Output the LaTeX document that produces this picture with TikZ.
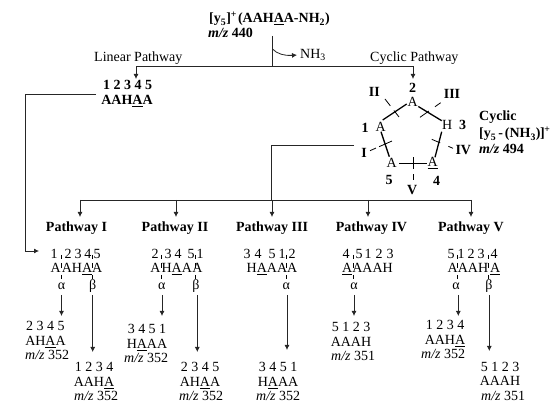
\documentclass[tikz,border=0pt]{standalone}
\usepackage{fontspec}
\setmainfont{Liberation Serif}
\usetikzlibrary{arrows.meta}
\newcommand{\ua}{\underline{A}}
\newcommand{\mz}[1]{\textit{m/z} #1}
\tikzset{
  x=1pt,y=-1pt,
  small/.style={inner sep=0pt,font=\fontsize{14}{14}\selectfont},
  bt/.style={inner sep=0pt,font=\fontsize{14}{14}\selectfont\bfseries},
  wire/.style={line width=0.8pt,black!85},
  arr/.style={wire,-{Latex[length=5pt,width=5pt]}},
  bond/.style={line width=1.3pt,black},
  cutbase/.style={line width=0.8pt,black},
  tick/.style={line width=0.8pt,black,dash pattern=on 4.3pt off 3.7pt on 5pt off 7pt on 4.3pt off 10pt},
}
\newcommand{\product}[7]{%
  \node[small,anchor=base] (#1n) at (#2,#3) {#5};
  \node[small,anchor=base] (#1s) at (#2,#3+14.5) {#6};
  \node[small,anchor=base west] (#1m) at (#4,#3+29) {\mz{#7}};
}
\begin{document}
\begin{tikzpicture}
\useasboundingbox (0,0) rectangle (550,406);
% header
\node[bt,anchor=base west] (title) at (209,23) {[y\textsubscript{5}]\textsuperscript{+}\kern-2.5pt{} (AAH\ua A-NH\textsubscript{2})};
\node[bt,anchor=base west] (mass) at (208,38) {\textit{m/z} 440};
\coordinate (top) at (272.5,36);
\coordinate (junction) at (272.5,66.5);
\coordinate (left) at (136,66.5);
\coordinate (right) at (413,66.5);
\coordinate (leftend) at (136,79);
\coordinate (rightend) at (413,79);
\draw[wire] (top) -- (junction);
\draw[wire] (left) -- (right);
\draw[arr] (left) -- (leftend);
\draw[arr] (right) -- (rightend);
\node[small,anchor=west] (nh) at (300,55) {NH\textsubscript{3}};
\coordinate (bend) at (272.5,49);
\draw[arr] (bend) .. controls (277,54) and (285,56) .. ([xshift=-3pt]nh.west);
\node[small,anchor=base west] (linear) at (94,62) {Linear Pathway};
\node[small,anchor=base west] (cyclic) at (370,62) {Cyclic Pathway};
% linear sequence
\node[bt,anchor=base] (lnum) at (127.5,90) {1 2 3 4 5};
\node[bt,anchor=base] (lseq) at (127,105) {AAH\ua A};
\coordinate (lstart) at (96,94);
\coordinate (lcorner) at (25,94);
\coordinate (lcorner2) at (25,251);
\coordinate (p1in) at (39,251);
\draw[arr] (lstart) -- (lcorner) -- (lcorner2) -- (p1in);
% ring
\node[small] (r2) at (412.7,101.7) {A};
\node[small] (r3) at (447.3,124.5) {H};
\node[small] (r1) at (380.7,126.7) {A};
\node[small] (r5) at (391.7,163.3) {A};
\node[small] (r4) at (432.7,163.3) {\ua};
\draw[bond] (382.7,120) -- (406.7,104);
\draw[bond] (418.3,106.5) -- (441.7,120.7);
\draw[bond] (381,131.7) -- (389.3,156.7);
\draw[bond] (441.7,131.7) -- (435,157.3);
\draw[bond] (399.3,163.5) -- (427.3,163.5);
\draw[cutbase,dash pattern=on 8.6pt off 6pt on 8.2pt off 9pt] (385,99) -- (399,117);
\draw[cutbase,dash pattern=on 7pt off 7.5pt on 12pt off 9pt] (440.7,102.7) -- (420,117.3);
\draw[cutbase,dash pattern=on 6.5pt off 3.5pt on 14pt off 9pt] (370,150.7) -- (392.7,140.7);
\draw[cutbase,dash pattern=on 5pt off 9pt on 9pt off 9pt] (453,148.3) -- (431.7,139.3);
\draw[cutbase,dash pattern=on 12pt off 5pt on 6pt off 9pt] (413,157.3) -- (413,180);
\node[bt] (n2) at (412.7,88.3) {2};
\node[bt] (n1) at (365,127.7) {1};
\node[bt] (n3) at (462.7,125) {3};
\node[bt] (n5) at (389,180) {5};
\node[bt] (n4) at (436.7,181) {4};
\node[bt] (cII) at (374.3,92.3) {II};
\node[bt] (cIII) at (452,94) {III};
\node[bt] (cI) at (364,152.7) {I};
\node[bt] (cIV) at (463.3,150) {IV};
\node[bt] (cV) at (412.3,190) {V};
\node[bt,anchor=base west] (cy1) at (479,121) {Cyclic};
\node[bt,anchor=base west] (cy2) at (479,138) {[y\textsubscript{5}\kern-1.5pt{} - \kern-1.5pt(NH\textsubscript{3})\kern-.5pt]\kern-.5pt\textsuperscript{+}};
\node[bt,anchor=base west] (cy3) at (479,153.5) {\textit{m/z} 494};
% distribution
\coordinate (ringout) at (354,145);
\coordinate (ringc) at (271.5,145);
\coordinate (busm) at (271.5,200);
\coordinate (busl) at (80,200);
\coordinate (busr) at (471,200);
\draw[wire] (ringout) -- (ringc) -- (busm);
\draw[wire] (busl) -- (busr);
\foreach \x/\n in {80/a,176/b,272/c,368/d,471/e}{
  \coordinate (b\n) at (\x,200);
  \coordinate (t\n) at (\x,217);
  \draw[arr] (b\n) -- (t\n);
}
\node[bt] (P1) at (76.5,228) {Pathway I};
\node[bt] (P2) at (175,228) {Pathway II};
\node[bt] (P3) at (272,228) {Pathway III};
\node[bt] (P4) at (371.5,228) {Pathway IV};
\node[bt] (P5) at (471,228) {Pathway V};
% numbers over sequences
\foreach \x/\t [count=\i] in {54/1,68/2,78/3,88/4,97/5, 155/2,168/3,178/4,191/5,200/1, 247/3,258/4,272/5,282/1,292/2, 346/4,359/5,368/1,379/2,390/3, 451/5,461/1,471/2,481/3,494/4}
  \node[small,anchor=base] (num\i) at (\x,258.5) {\t};
% sequences
\node[small,anchor=base] (s1) at (76.5,273) {A\kern1pt AH\ua A};
\node[small,anchor=base] (s2) at (176.5,273) {A\kern1pt H\ua A\kern.5pt A};
\node[small,anchor=base] (s3) at (272,273) {H\ua AAA};
\node[small,anchor=base] (s4) at (367.5,273) {\ua AAAH};
\node[small,anchor=base] (s5) at (474,273) {AAAH\kern2pt\ua};
% cut ticks
\foreach \x in {61.5,92.7,161.7,195,286.3,353,457,488}
  \draw[tick] (\x,255) -- (\x,279.5);
% alpha beta labels
\foreach \x/\t/\n in {61.5/α/a1,92.7/β/b1,161.7/α/a2,196/β/b2,286.3/α/a3,354/α/a4,456/α/a5,489/β/b5}
  \node[small] (l\n) at (\x,286) {\t};
% arrows
\foreach \x/\y/\n in {61.5/316/a1,92.7/352/b1,162/316/a2,197.3/352/b2,287/350/a3,354/316/a4,458.3/316/a5,489.3/351/b5}{
  \coordinate (from\n) at (\x,295);
  \coordinate (to\n) at (\x,\y);
  \draw[arr] (from\n) -- (to\n);
}
% products
\product{pa1}{45.5}{331}{25}{2 3 4 5}{AH\ua A}{352}
\product{pb1}{94}{372}{74}{1 2 3 4}{AAH\ua}{352}
\product{pa2}{147}{334}{124}{3 4 5 1}{H\ua AA}{352}
\product{pb2}{200}{372}{179}{2 3 4 5}{AH\ua A}{352}
\product{pa3}{278}{372}{256}{3 4 5 1}{H\ua AA}{352}
\product{pa4}{351}{332}{331}{5 1 2 3}{AAAH}{351}
\product{pa5}{445}{330}{421}{1 2 3 4}{AAH\ua}{352}
\product{pb5}{500}{371.5}{481}{5 1 2 3}{AAAH}{351}
\end{tikzpicture}
\end{document}
